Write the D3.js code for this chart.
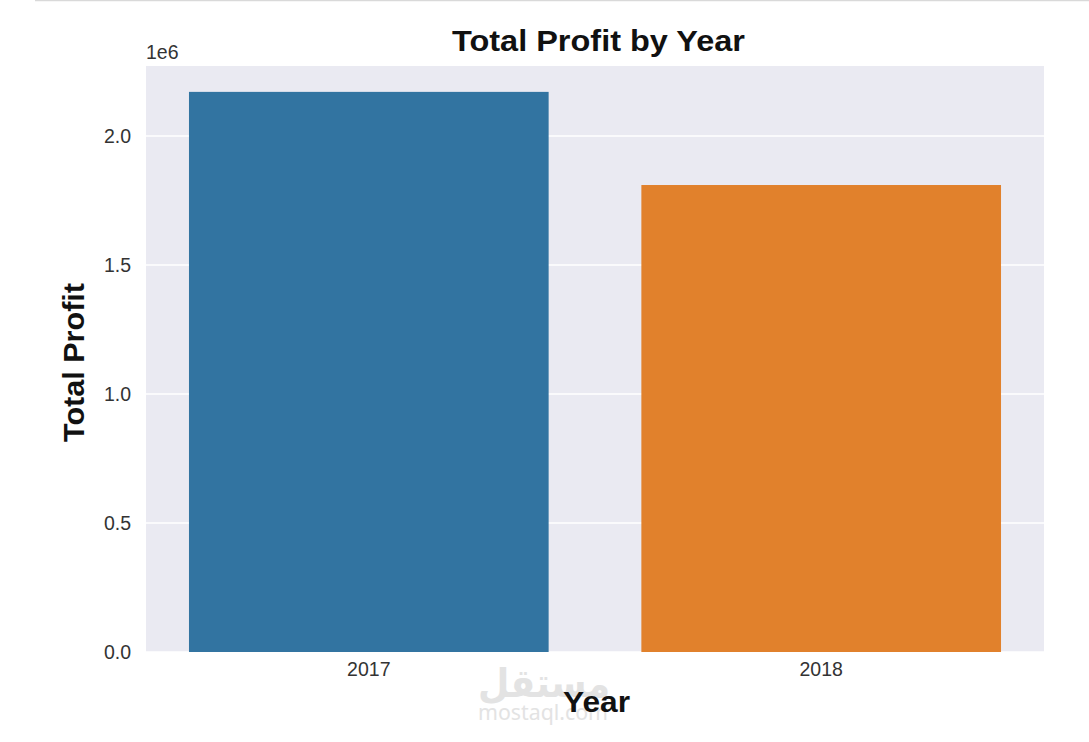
<!DOCTYPE html>
<html><head><meta charset="utf-8">
<script src="https://cdn.jsdelivr.net/npm/d3@7"></script>
<style>body{margin:0;background:#fff;}svg{display:block;font-family:"Liberation Sans",Arial,sans-serif;}</style>
</head><body>
<svg id="c" width="1089" height="742"></svg>
<script>
const categories = ["2017", "2018"];
const profits = [2171000, 1810000];
const colors = ["#3274a1", "#e1812c"];
const yTicks = [0, 0.5e6, 1.0e6, 1.5e6, 2.0e6];

const svg = d3.select("#c");
const m = {left:146, right:1044, top:66, bottom:652};

// top border line
svg.append("line").attr("x1",35).attr("x2",1089).attr("y1",0.5).attr("y2",0.5)
  .attr("stroke","#d9d9d9").attr("stroke-width",1.5);

const x = d3.scaleBand().domain(categories).range([m.left,m.right]).paddingInner(0.205).paddingOuter(0.095);
const y = d3.scaleLinear().domain([0, 2.2713e6]).range([m.bottom,m.top]);

svg.append("rect").attr("x",m.left).attr("y",m.top).attr("width",m.right-m.left).attr("height",m.bottom-m.top).attr("fill","#eaeaf2");

svg.append("g").selectAll("line").data(yTicks).join("line")
  .attr("x1",m.left).attr("x2",m.right).attr("y1",d=>y(d)).attr("y2",d=>y(d))
  .attr("stroke","#fff").attr("stroke-width",1.3);

svg.append("g").selectAll("rect").data(profits).join("rect")
  .attr("x",(d,i)=>x(categories[i])).attr("width",x.bandwidth())
  .attr("y",d=>y(d)).attr("height",d=>y(0)-y(d)).attr("fill",(d,i)=>colors[i]);

const yAxis = svg.append("g").attr("transform",`translate(${m.left},0)`)
  .call(d3.axisLeft(y).tickValues(yTicks).tickFormat(d=>(d/1e6).toFixed(1)).tickSize(0).tickPadding(15));
yAxis.select(".domain").remove();
yAxis.selectAll("text").attr("font-size",19.5).attr("fill","#333").attr("font-family","Liberation Sans, Arial, sans-serif");

const xAxis = svg.append("g").attr("transform",`translate(0,${m.bottom})`)
  .call(d3.axisBottom(x).tickSize(0).tickPadding(10));
xAxis.select(".domain").remove();
xAxis.selectAll("text").attr("font-size",19.5).attr("fill","#333").attr("font-family","Liberation Sans, Arial, sans-serif");

svg.append("text").attr("x",146).attr("y",59).attr("font-size",19.5).attr("fill","#333").text("1e6");

// watermark
svg.append("text").attr("x",478).attr("y",697).attr("font-size",40).attr("font-weight","bold")
  .attr("textLength",132).attr("lengthAdjust","spacingAndGlyphs")
  .attr("fill","#e3e3e3").attr("font-family","Noto Sans, DejaVu Sans, sans-serif").text("مستقل");
svg.append("text").attr("x",478).attr("y",720).attr("font-size",21)
  .attr("textLength",130).attr("lengthAdjust","spacingAndGlyphs")
  .attr("fill","#e3e3e3").attr("font-family","Noto Sans, sans-serif").text("mostaql.com");

svg.append("text").attr("x",452).attr("y",51).attr("font-size",29.5).attr("font-weight","bold").attr("fill","#111")
  .attr("textLength",293).attr("lengthAdjust","spacingAndGlyphs").text("Total Profit by Year");
svg.append("text").attr("x",563).attr("y",712).attr("font-size",29).attr("font-weight","bold").attr("fill","#111")
  .attr("textLength",67).attr("lengthAdjust","spacingAndGlyphs").text("Year");
svg.append("text").attr("transform","translate(84,442) rotate(-90)").attr("font-size",29).attr("font-weight","bold").attr("fill","#111")
  .attr("textLength",159).attr("lengthAdjust","spacingAndGlyphs").text("Total Profit");
</script>
</body></html>
